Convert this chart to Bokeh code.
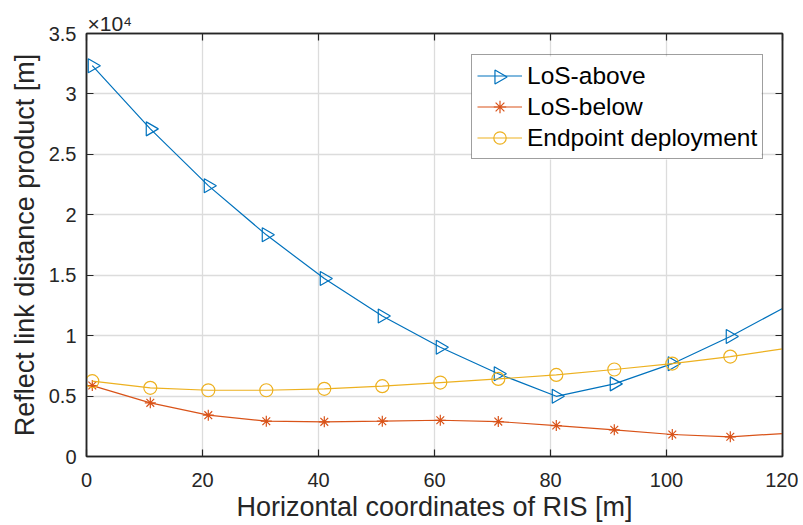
import numpy as np
from bokeh.plotting import figure
from bokeh.models import (FixedTicker, CustomJSTickFormatter, LinearAxis,
                          Legend, Range1d)
from bokeh.embed import file_html
from bokeh.resources import INLINE

# ---------------- data (values in units of 1e4 m) ----------------
x_pos = [1, 11, 21, 31, 41, 51, 61, 71, 81, 91, 101, 111, 120]
los_above = [3.234, 2.711, 2.241, 1.834, 1.472, 1.162, 0.904, 0.685, 0.498,
             0.601, 0.768, 0.993, 1.225]
los_below = [0.587, 0.444, 0.342, 0.292, 0.287, 0.292, 0.300, 0.289, 0.256,
             0.221, 0.182, 0.163, 0.190]
endpoint = [0.623, 0.568, 0.548, 0.548, 0.560, 0.582, 0.612, 0.642, 0.675,
            0.720, 0.769, 0.827, 0.891]
n_markers = 12  # markers at x = 1, 11, ..., 111

x_ticks = [0, 20, 40, 60, 80, 100, 120]
y_ticks = [0, 0.5, 1, 1.5, 2, 2.5, 3, 3.5]
X_MIN, X_MAX = 0, 120
Y_MIN, Y_MAX = 0, 3.5

series_names = ["LoS-above", "LoS-below", "Endpoint deployment"]
colors = ["#0072BD", "#D95319", "#EDB120"]
exponent_text = "×10⁴"

FONT = "Liberation Sans"
TXT = "#262626"
FW, FH = 696, 423

p = figure(width=798, height=522, frame_width=FW, frame_height=FH,
           output_backend="svg", toolbar_location=None,
           x_range=Range1d(X_MIN, X_MAX), y_range=Range1d(Y_MIN, Y_MAX),
           min_border_left=86, min_border_right=16, min_border_top=33,
           min_border_bottom=66)
p.background_fill_color = "white"
p.border_fill_color = "white"
p.outline_line_color = TXT
p.outline_line_width = 1.5

# exponent shown as the (left-aligned) title just above the frame
p.title.text = exponent_text
p.title.align = "left"
p.title.offset = 1
p.title.standoff = -2
p.title.text_font = FONT
p.title.text_font_size = "21px"
p.title.text_font_style = "normal"
p.title.text_color = TXT

fmt = CustomJSTickFormatter(code="return String(tick);")
blank = CustomJSTickFormatter(code="return '';")

# main axes
for ax in p.xaxis + p.yaxis:
    ax.axis_line_color = TXT
    ax.axis_line_width = 1.5
    ax.major_tick_line_color = TXT
    ax.major_tick_line_width = 1.2
    ax.major_tick_in = 7
    ax.major_tick_out = 0
    ax.minor_tick_line_color = None
    ax.major_label_text_font = FONT
    ax.major_label_text_font_size = "20px"
    ax.major_label_text_color = TXT
    ax.axis_label_text_font = FONT
    ax.axis_label_text_font_size = "27px"
    ax.axis_label_text_font_style = "normal"
    ax.axis_label_text_color = TXT
    ax.formatter = fmt

p.xaxis.ticker = FixedTicker(ticks=x_ticks)
p.yaxis.ticker = FixedTicker(ticks=y_ticks)
p.xaxis.axis_label = "Horizontal coordinates of RIS [m]"
p.yaxis.axis_label = "Reflect link distance product [m]"
p.xaxis.major_label_standoff = 16
p.xaxis.axis_label_standoff = 2
p.yaxis.major_label_standoff = 10
p.yaxis.axis_label_standoff = 6

# mirrored box axes (top / right) with inward ticks
for loc, tick in (("above", x_ticks), ("right", y_ticks)):
    ax = LinearAxis(ticker=FixedTicker(ticks=tick), formatter=blank)
    ax.axis_line_color = TXT
    ax.axis_line_width = 1.5
    ax.major_tick_line_color = TXT
    ax.major_tick_line_width = 1.2
    ax.major_tick_in = 7
    ax.major_tick_out = 0
    ax.minor_tick_line_color = None
    ax.major_label_standoff = 0
    p.add_layout(ax, loc)

p.grid.grid_line_color = "#DCDCDC"
p.grid.grid_line_width = 1.3
p.xgrid.ticker = FixedTicker(ticks=x_ticks)
p.ygrid.ticker = FixedTicker(ticks=y_ticks)

# ---------------- legend geometry (frame pixels) ----------------
LEG_X, LEG_Y = 385, 297
PAD, GW, ROW = 5, 45, 31
LEG_W = 290
leg_h = 2 * PAD + 3 * ROW


def px2x(px):
    return X_MIN + px * (X_MAX - X_MIN) / FW


def px2y(py):
    return Y_MIN + py * (Y_MAX - Y_MIN) / FH


# white backing of the legend box (covers the grid, drawn before the symbols)
p.quad(left=[px2x(LEG_X)], right=[px2x(LEG_X + LEG_W)],
       bottom=[px2y(LEG_Y)], top=[px2y(LEG_Y + leg_h)],
       fill_color="white", line_color=None)

TRI_SIZE = 14
items = []
data = [los_above, los_below, endpoint]
for i, (name, col, ys) in enumerate(zip(series_names, colors, data)):
    ln = p.line(x_pos, ys, line_color=col, line_width=1.2)
    mx = x_pos[:n_markers]
    my = ys[:n_markers]
    if i == 0:
        mk = p.scatter(mx, my, marker="triangle", size=TRI_SIZE, angle=-np.pi / 2,
                       fill_color=None, line_color=col, line_width=1.2)
        items.append((name, [ln]))  # right-pointing legend symbol added below
    elif i == 1:
        mk = p.scatter(mx, my, marker="asterisk", size=11,
                       line_color=col, line_width=1.2)
        items.append((name, [ln, mk]))
    else:
        mk = p.scatter(mx, my, marker="circle", size=13, fill_color=None,
                       line_color=col, line_width=1.2)
        items.append((name, [ln, mk]))

# right-pointing triangle symbol for the first legend entry
cx_px = LEG_X + PAD + GW / 2
cy_px = LEG_Y + leg_h - PAD - ROW / 2
p.scatter([px2x(cx_px)], [px2y(cy_px)], marker="triangle", size=TRI_SIZE,
          angle=-np.pi / 2, fill_color=None, line_color=colors[0], line_width=1.2)

legend = Legend(items=items, location=(LEG_X, LEG_Y))
legend.label_text_font = FONT
legend.label_text_font_size = "24.5px"
legend.label_text_color = "black"
legend.border_line_color = "#404040"
legend.border_line_width = 1
legend.background_fill_color = "white"
legend.background_fill_alpha = 0
legend.padding = PAD
legend.spacing = 0
legend.margin = 0
legend.glyph_width = GW
legend.glyph_height = ROW
legend.label_height = ROW
legend.label_standoff = 5
p.add_layout(legend, "center")

open("out.html", "w").write(file_html(p, INLINE))
